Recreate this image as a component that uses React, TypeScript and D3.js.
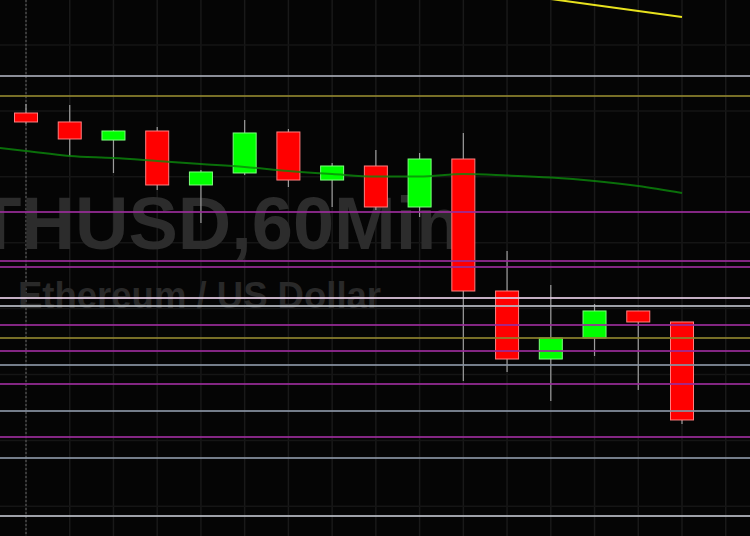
import React, { useEffect, useRef } from "react";
import * as d3 from "d3";

// ETHUSD 60 min candles (index, open, high, low, close)
const candleIndex = [0, 1, 2, 3, 4, 5, 6, 7, 8, 9, 10, 11, 12, 13, 14, 15];
const opens = [1819.68, 1818.32, 1815.58, 1816.95, 1808.76, 1810.58, 1816.8, 1809.51, 1811.64, 1805.42, 1812.7, 1792.67, 1782.35, 1785.54, 1789.64, 1787.97];
const highs = [1821.05, 1820.9, 1817.1, 1817.56, 1811.03, 1818.62, 1817.25, 1812.09, 1814.07, 1813.61, 1816.65, 1798.74, 1793.58, 1790.7, 1789.64, 1787.97];
const lows = [1818.01, 1813.16, 1810.58, 1808.0, 1802.99, 1810.27, 1808.45, 1805.42, 1804.96, 1803.9, 1779.01, 1780.38, 1775.98, 1782.81, 1777.65, 1772.49];
const closes = [1818.32, 1815.74, 1816.95, 1808.76, 1810.73, 1816.65, 1809.51, 1811.64, 1805.42, 1812.7, 1792.67, 1782.35, 1785.54, 1789.64, 1787.97, 1773.1];

// moving averages
const maIndex = [-1, 0, 1, 2, 3, 4, 5, 6, 7, 8, 9, 10, 11, 12, 13, 14, 15];
const maGreen = [1814.67, 1813.92, 1813.16, 1812.85, 1812.4, 1811.94, 1811.49, 1810.88, 1810.42, 1810.05, 1810.05, 1810.42, 1810.2, 1809.89, 1809.36, 1808.6, 1807.54];
const maYellowIndex = [11, 12, 13, 14, 15];
const maYellow = [1837.94, 1836.98, 1836.07, 1835.16, 1834.25];

// horizontal levels
const levelPrices = [1825.3, 1822.26, 1804.66, 1797.22, 1796.31, 1791.61, 1790.39, 1787.51, 1785.54, 1783.57, 1781.44, 1778.56, 1774.46, 1770.52, 1767.33, 1758.53];
const levelKinds = ["gray", "olive", "purple", "purple", "purple", "pale", "light", "purple", "olive", "purple", "slate", "purple", "slate", "purple", "slate", "light"];

const gridPrices = [1830, 1820, 1810, 1800, 1790, 1780, 1770, 1760];
const gridIndex = [-1, 0, 1, 2, 3, 4, 5, 6, 7, 8, 9, 10, 11, 12, 13, 14, 15, 16];

const symbolText = "ETHUSD,60Min";
const descText = "Ethereum / US Dollar";

const levelColors: Record<string, string> = {
  gray: "#a3a7b2",
  olive: "#8d822e",
  purple: "#9a2c9a",
  pale: "#e6cde6",
  light: "#b9bdc5",
  slate: "#8893a2",
};

const App: React.FC = () => {
  const ref = useRef<SVGSVGElement | null>(null);
  const width = 750;
  const height = 536;

  useEffect(() => {
    const svg = d3.select(ref.current);
    svg.selectAll("*").remove();
    svg.attr("width", width).attr("height", height);

    const x = d3.scaleLinear().domain([0, 15]).range([26, 682]);
    const y = d3.scaleLinear().domain([1830, 1760]).range([45, 506.3]);
    const bodyW = 23;

    svg.append("rect").attr("width", width).attr("height", height).attr("fill", "#050505");

    // grid
    svg
      .selectAll(".vgrid")
      .data(gridIndex)
      .enter()
      .append("line")
      .attr("x1", (d) => x(d))
      .attr("x2", (d) => x(d))
      .attr("y1", 0)
      .attr("y2", height)
      .attr("stroke", "#191919")
      .attr("stroke-width", 1.5);

    svg
      .selectAll(".hgrid")
      .data(gridPrices)
      .enter()
      .append("line")
      .attr("x1", 0)
      .attr("x2", width)
      .attr("y1", (d) => y(d))
      .attr("y2", (d) => y(d))
      .attr("stroke", "#151515")
      .attr("stroke-width", 1.5);

    // crosshair
    svg
      .append("line")
      .attr("x1", x(0))
      .attr("x2", x(0))
      .attr("y1", 0)
      .attr("y2", height)
      .attr("stroke", "#4a4a4a")
      .attr("stroke-width", 1.5)
      .attr("stroke-dasharray", "2,2");

    // watermark
    svg
      .append("text")
      .attr("x", -73)
      .attr("y", 249)
      .style("font-family", "'Liberation Sans', Arial, sans-serif")
      .style("font-weight", "bold")
      .style("font-size", "74px")
      .attr("fill", "#2c2c2c")
      .text(symbolText);

    svg
      .append("text")
      .attr("x", 18)
      .attr("y", 308)
      .style("font-family", "'Liberation Sans', Arial, sans-serif")
      .style("font-weight", "bold")
      .style("font-size", "36.5px")
      .attr("fill", "#292929")
      .text(descText);

    // candles
    const g = svg.append("g");
    candleIndex.forEach((i) => {
      const up = closes[i] >= opens[i];
      const cx = x(i);
      g.append("line")
        .attr("x1", cx)
        .attr("x2", cx)
        .attr("y1", y(highs[i]))
        .attr("y2", y(lows[i]))
        .attr("stroke", "#9c9c9c")
        .attr("stroke-width", 1.2);
      const top = y(Math.max(opens[i], closes[i]));
      const bot = y(Math.min(opens[i], closes[i]));
      g.append("rect")
        .attr("x", cx - bodyW / 2)
        .attr("y", top)
        .attr("width", bodyW)
        .attr("height", Math.max(1, bot - top))
        .attr("fill", up ? "#00ff00" : "#ff0000")
        .attr("stroke", up ? "#7dff7d" : "#ff7f7f")
        .attr("stroke-width", 1);
    });

    // levels
    svg
      .selectAll(".level")
      .data(levelPrices)
      .enter()
      .append("line")
      .attr("x1", 0)
      .attr("x2", width)
      .attr("y1", (d) => y(d))
      .attr("y2", (d) => y(d))
      .attr("stroke", (_d, i) => levelColors[levelKinds[i]])
      .attr("stroke-width", 2)
      .attr("opacity", 0.85);

    // moving averages
    const line = d3
      .line<number>()
      .x((_d, i) => x(maIndex[i]))
      .y((d) => y(d))
      .curve(d3.curveMonotoneX);

    svg
      .append("path")
      .attr("d", line(maGreen))
      .attr("fill", "none")
      .attr("stroke", "#0b8a0b")
      .attr("stroke-width", 2)
      .attr("opacity", 0.8);

    const lineY = d3
      .line<number>()
      .x((_d, i) => x(maYellowIndex[i]))
      .y((d) => y(d));

    svg
      .append("path")
      .attr("d", lineY(maYellow))
      .attr("fill", "none")
      .attr("stroke", "#e8e21e")
      .attr("stroke-width", 2);
  }, []);

  return (
    <svg
      ref={ref}
      style={{ position: "fixed", left: 0, top: 0, display: "block" }}
    ></svg>
  );
};

export default App;
